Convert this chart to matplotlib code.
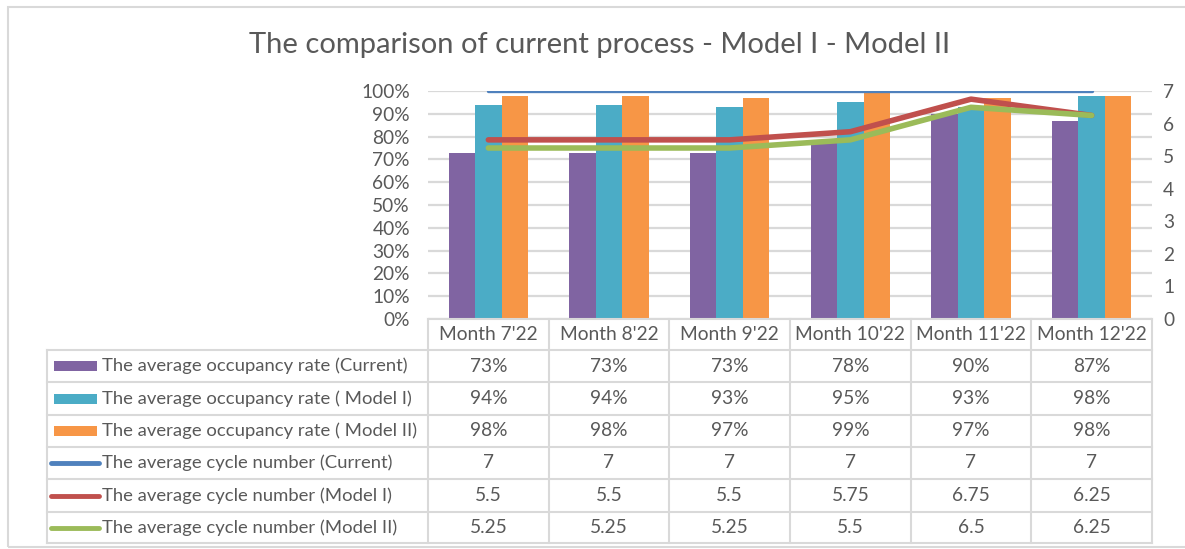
import matplotlib
matplotlib.use("Agg")
import matplotlib.pyplot as plt
from matplotlib.patches import Rectangle

plt.rcParams['font.family'] = ['Lato', 'DejaVu Sans']

months = ["Month 7'22", "Month 8'22", "Month 9'22", "Month 10'22", "Month 11'22", "Month 12'22"]

occ_current = [0.73, 0.73, 0.73, 0.78, 0.90, 0.87]
occ_model1 = [0.94, 0.94, 0.93, 0.95, 0.93, 0.98]
occ_model2 = [0.98, 0.98, 0.97, 0.99, 0.97, 0.98]

cyc_current = [7, 7, 7, 7, 7, 7]
cyc_model1 = [5.5, 5.5, 5.5, 5.75, 6.75, 6.25]
cyc_model2 = [5.25, 5.25, 5.25, 5.5, 6.5, 6.25]

bar_names = ["The average occupancy rate (Current)",
             "The average occupancy rate ( Model I)",
             "The average occupancy rate ( Model II)"]
line_names = ["The average cycle number (Current)",
              "The average cycle number (Model I)",
              "The average cycle number (Model II)"]

bar_colors = ["#8064A2", "#4BACC6", "#F79646"]
line_colors = ["#4F81BD", "#C0504D", "#9BBB59"]
TXT = "#595959"
GRID = "#d9d9d9"
FS = 13.8

W, H = 1185, 549
fig = plt.figure(figsize=(W / 100, H / 100), dpi=100)


def px_axes(l, t, r, b):
    return fig.add_axes([l / W, 1 - b / H, (r - l) / W, (b - t) / H])


# outer chart frame
fig.patches.append(Rectangle((8 / W, 2 / H), 1.2, 1 - 9 / H, transform=fig.transFigure,
                             fill=False, edgecolor=GRID, lw=1.5))

fig.text(600 / W, 1 - 45 / H, "The comparison of current process - Model I - Model II",
         ha='center', va='center', fontsize=21, color=TXT)

# main plot
L, R, T, B = 428, 1152, 91, 319
ax = px_axes(L, T, R, B)
x = list(range(len(months)))
bw = 0.22
for k, (vals, c) in enumerate(zip([occ_current, occ_model1, occ_model2], bar_colors)):
    ax.bar([i + (k - 1) * bw for i in x], vals, width=bw, color=c, zorder=2)
ax.set_xlim(-0.5, len(months) - 0.5)
ax.set_ylim(0, 1.0)
ax.set_yticks([i / 10 for i in range(11)])
ax.set_yticklabels([f"{i * 10}%" for i in range(11)])
ax.yaxis.grid(True, color=GRID, lw=1.6, zorder=0)
ax.set_axisbelow(True)
ax.set_xticks([])
for s in ['left', 'right', 'top']:
    ax.spines[s].set_visible(False)
ax.spines['bottom'].set_color(GRID)
ax.spines['bottom'].set_linewidth(1.5)
ax.tick_params(axis='y', length=0, pad=13, labelsize=FS, labelcolor=TXT)

ax2 = ax.twinx()
ax2.set_ylim(0, 7)
ax2.set_yticks(range(8))
for s in ax2.spines.values():
    s.set_visible(False)
ax2.tick_params(axis='y', length=0, pad=8, labelsize=FS, labelcolor=TXT)
for vals, c, lw in zip([cyc_current, cyc_model1, cyc_model2], line_colors, [2.4, 4, 4]):
    ax2.plot(x, vals, color=c, lw=lw, solid_capstyle='round', solid_joinstyle='round', zorder=3)

# data table
colw = (R - L) / len(months)
TL = 47
rows = [319, 350, 382, 415, 447, 479, 512, 543]
tab = px_axes(TL, rows[0], R, rows[-1])
x0 = -0.5 - (L - TL) / colw
tab.set_xlim(x0, len(months) - 0.5)
tab.set_ylim(rows[-1], rows[0])
tab.axis('off')

lkw = dict(color=GRID, lw=1.5, clip_on=False)
# header
for i, m in enumerate(months):
    tab.text(i, (rows[0] + rows[1]) / 2, m, ha='center', va='center', fontsize=FS, color=TXT)
for i in range(len(months) + 1):
    tab.plot([i - 0.5, i - 0.5], [rows[0], rows[-1]], **lkw)
tab.plot([x0, x0], [rows[1], rows[-1]], **lkw)
for r in rows[1:]:
    tab.plot([x0, len(months) - 0.5], [r, r], **lkw)

names = bar_names + line_names
series = [occ_current, occ_model1, occ_model2, cyc_current, cyc_model1, cyc_model2]
colors = bar_colors + line_colors
sw_l = x0 + 7 / colw
sw_r = x0 + 50 / colw
for j, (name, vals, c) in enumerate(zip(names, series, colors)):
    yc = (rows[j + 1] + rows[j + 2]) / 2
    if j < 3:
        tab.add_patch(Rectangle((sw_l, yc - 5), sw_r - sw_l, 10, color=c, lw=0))
        txt = [f"{round(v * 100)}%" for v in vals]
    else:
        tab.plot([x0 + 4 / colw, sw_r + 2 / colw], [yc, yc], color=c, lw=3.5, solid_capstyle='round')
        txt = [f"{v:g}" for v in vals]
    tab.text(x0 + 55 / colw, yc, name, ha='left', va='center', fontsize=13.3, color=TXT)
    for i, t in enumerate(txt):
        tab.text(i, yc, t, ha='center', va='center', fontsize=FS, color=TXT)

fig.savefig("out.png", dpi=100)
